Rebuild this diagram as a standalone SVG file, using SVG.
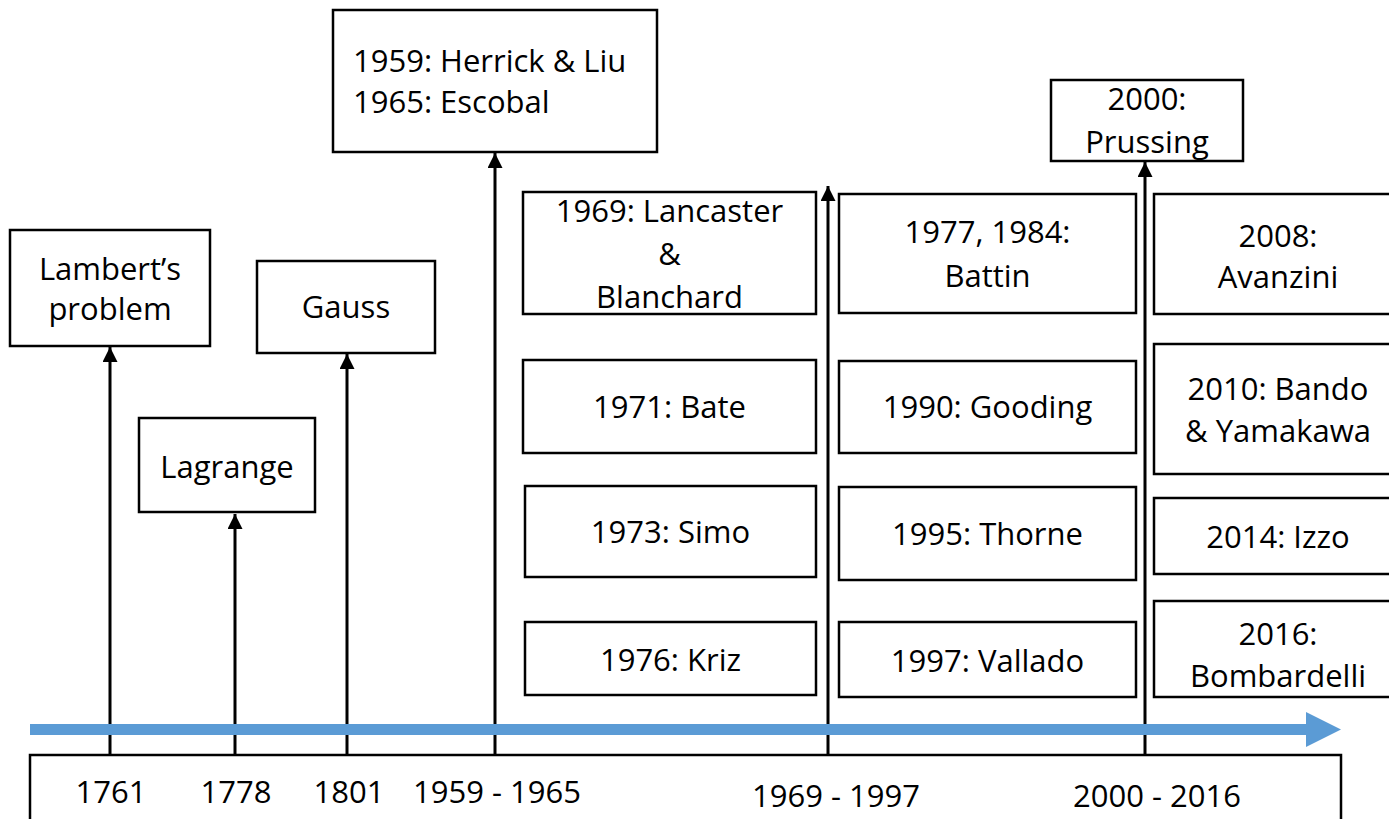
<svg xmlns="http://www.w3.org/2000/svg" width="1389" height="819" viewBox="0 0 1389 819">
<style>
  .box { fill: #fff; stroke: #000; stroke-width: 2.5; }
  .t { font-family: "Open Sans", "Liberation Sans", sans-serif; font-size: 31px; fill: #000; text-anchor: middle; }
  .tl { text-anchor: start; }
  .ax { font-family: "Open Sans", "Liberation Sans", sans-serif; font-size: 31px; fill: #000; text-anchor: middle; }
  .conn { stroke: #000; stroke-width: 3; fill: none; marker-end: url(#ah); }
</style>
<defs>
  <marker id="ah" viewBox="0 0 10 10" refX="10" refY="5" markerWidth="5" markerHeight="5" orient="auto" markerUnits="strokeWidth">
    <path d="M0,0 L10,5 L0,10 z" fill="#000"/>
  </marker>
</defs>
<rect width="1389" height="819" fill="#fff"/>

<g id="axis-box">
  <rect class="box" x="30" y="755" width="1311" height="90"/>
  <text class="ax" x="111" y="803">1761</text>
  <text class="ax" x="236" y="803">1778</text>
  <text class="ax" x="349" y="803">1801</text>
  <text class="ax" x="497" y="803">1959 - 1965</text>
  <text class="ax" x="836" y="807">1969 - 1997</text>
  <text class="ax" x="1157" y="807">2000 - 2016</text>
</g>

<g id="connectors">
  <line class="conn" x1="110" y1="755" x2="110" y2="347"/>
  <line class="conn" x1="235" y1="755" x2="235" y2="514"/>
  <line class="conn" x1="347" y1="755" x2="347" y2="354"/>
  <line class="conn" x1="495" y1="755" x2="495" y2="153"/>
  <line class="conn" x1="828" y1="755" x2="828" y2="186"/>
  <line class="conn" x1="1145" y1="755" x2="1145" y2="162"/>
</g>

<g id="timeline">
  <line x1="30" y1="729.5" x2="1308" y2="729.5" stroke="#5B9BD5" stroke-width="11"/>
  <polygon points="1306,712 1341,729.5 1306,747" fill="#5B9BD5"/>
</g>

<g id="lambert">
  <rect class="box" x="10" y="230" width="200" height="116"/>
  <text class="t" x="110" y="280">Lambert’s</text>
  <text class="t" x="110" y="320">problem</text>
</g>
<g id="lagrange">
  <rect class="box" x="139" y="418" width="176" height="94"/>
  <text class="t" x="227" y="478">Lagrange</text>
</g>
<g id="gauss">
  <rect class="box" x="257" y="261" width="178" height="92"/>
  <text class="t" x="346" y="318">Gauss</text>
</g>
<g id="herrick">
  <rect class="box" x="333" y="10" width="324" height="142"/>
  <text class="t tl" x="353" y="72">1959: Herrick &amp; Liu</text>
  <text class="t tl" x="353" y="113">1965: Escobal</text>
</g>
<g id="prussing">
  <rect class="box" x="1051" y="80" width="192" height="81"/>
  <text class="t" x="1147" y="110">2000:</text>
  <text class="t" x="1147" y="153">Prussing</text>
</g>

<g id="lancaster">
  <rect class="box" x="523" y="192" width="293" height="122"/>
  <text class="t" x="669.5" y="222">1969: Lancaster</text>
  <text class="t" x="669.5" y="265">&amp;</text>
  <text class="t" x="669.5" y="308">Blanchard</text>
</g>
<g id="bate">
  <rect class="box" x="523" y="360" width="293" height="93"/>
  <text class="t" x="669.5" y="418">1971: Bate</text>
</g>
<g id="simo">
  <rect class="box" x="525" y="486" width="291" height="91"/>
  <text class="t" x="670.5" y="543">1973: Simo</text>
</g>
<g id="kriz">
  <rect class="box" x="525" y="622" width="291" height="73"/>
  <text class="t" x="670.5" y="671">1976: Kriz</text>
</g>

<g id="battin">
  <rect class="box" x="839" y="194" width="297" height="119"/>
  <text class="t" x="987.5" y="243">1977, 1984:</text>
  <text class="t" x="987.5" y="287">Battin</text>
</g>
<g id="gooding">
  <rect class="box" x="839" y="361" width="297" height="92"/>
  <text class="t" x="987.5" y="418">1990: Gooding</text>
</g>
<g id="thorne">
  <rect class="box" x="839" y="487" width="297" height="93"/>
  <text class="t" x="987.5" y="545">1995: Thorne</text>
</g>
<g id="vallado">
  <rect class="box" x="839" y="622" width="297" height="75"/>
  <text class="t" x="987.5" y="672">1997: Vallado</text>
</g>

<g id="avanzini">
  <rect class="box" x="1154" y="194" width="248" height="120"/>
  <text class="t" x="1278" y="247">2008:</text>
  <text class="t" x="1278" y="288">Avanzini</text>
</g>
<g id="bando">
  <rect class="box" x="1154" y="344" width="248" height="130"/>
  <text class="t" x="1278" y="400">2010: Bando</text>
  <text class="t" x="1278" y="442">&amp; Yamakawa</text>
</g>
<g id="izzo">
  <rect class="box" x="1154" y="498" width="248" height="76"/>
  <text class="t" x="1278" y="548">2014: Izzo</text>
</g>
<g id="bombardelli">
  <rect class="box" x="1154" y="601" width="248" height="96"/>
  <text class="t" x="1278" y="645">2016:</text>
  <text class="t" x="1278" y="687">Bombardelli</text>
</g>
</svg>
